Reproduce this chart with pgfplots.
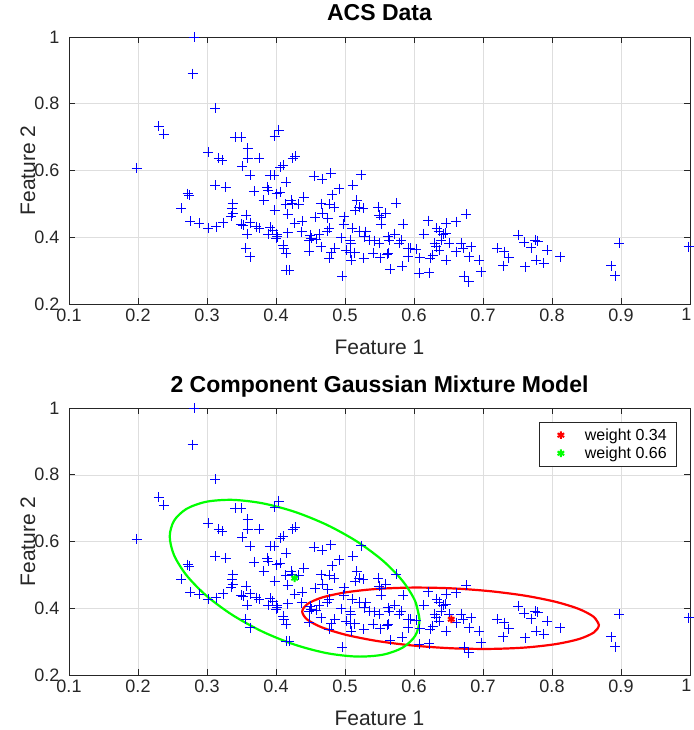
\documentclass[border=0pt]{standalone}
\usepackage{fontspec}
\setmainfont{Liberation Sans}
\usepackage{pgfplots}
\pgfplotsset{compat=1.18}
\usepackage{pgfplotstable}
\definecolor{mgreen}{rgb}{0,1,0}
\definecolor{mred}{rgb}{1,0,0}
\definecolor{mblue}{rgb}{0,0,1}
\definecolor{axgray}{gray}{0.15}

\pgfplotstableread{
x y
0.281 0.999
0.279 0.890
0.312 0.787
0.230 0.732
0.237 0.708
0.198 0.608
0.341 0.700
0.349 0.700
0.404 0.722
0.398 0.702
0.302 0.654
0.317 0.636
0.322 0.631
0.359 0.666
0.359 0.638
0.376 0.636
0.351 0.613
0.362 0.586
0.391 0.586
0.397 0.586
0.410 0.616
0.406 0.611
0.415 0.566
0.312 0.556
0.327 0.551
0.272 0.531
0.274 0.526
0.368 0.539
0.387 0.551
0.389 0.541
0.406 0.536
0.401 0.531
0.382 0.511
0.414 0.499
0.263 0.487
0.337 0.501
0.336 0.487
0.398 0.481
0.337 0.473
0.335 0.464
0.357 0.467
0.417 0.470
0.276 0.449
0.289 0.442
0.302 0.427
0.313 0.432
0.323 0.444
0.349 0.440
0.352 0.437
0.362 0.444
0.371 0.432
0.376 0.427
0.392 0.430
0.395 0.422
0.389 0.410
0.401 0.410
0.358 0.410
0.417 0.414
0.400 0.397
0.402 0.402
0.356 0.367
0.362 0.342
0.410 0.377
0.411 0.367
0.415 0.352
0.415 0.302
0.419 0.302
0.424 0.636
0.428 0.643
0.455 0.584
0.467 0.574
0.479 0.591
0.491 0.546
0.481 0.528
0.523 0.588
0.511 0.556
0.440 0.521
0.422 0.511
0.423 0.501
0.433 0.499
0.465 0.501
0.477 0.499
0.484 0.491
0.517 0.511
0.520 0.490
0.515 0.481
0.526 0.487
0.467 0.473
0.457 0.460
0.475 0.457
0.477 0.427
0.474 0.419
0.499 0.462
0.498 0.440
0.548 0.491
0.549 0.467
0.559 0.472
0.552 0.459
0.574 0.503
0.552 0.439
0.584 0.439
0.427 0.442
0.438 0.449
0.437 0.417
0.449 0.407
0.451 0.397
0.448 0.390
0.462 0.410
0.458 0.394
0.465 0.372
0.448 0.359
0.494 0.399
0.507 0.392
0.508 0.382
0.510 0.427
0.520 0.419
0.530 0.417
0.528 0.402
0.535 0.392
0.485 0.367
0.480 0.354
0.477 0.337
0.502 0.362
0.507 0.354
0.514 0.354
0.509 0.332
0.527 0.337
0.496 0.284
0.543 0.390
0.549 0.382
0.541 0.352
0.551 0.339
0.561 0.349
0.562 0.402
0.564 0.392
0.572 0.410
0.581 0.392
0.578 0.382
0.563 0.352
0.565 0.304
0.583 0.314
0.591 0.367
0.594 0.367
0.603 0.364
0.592 0.342
0.608 0.339
0.614 0.410
0.621 0.450
0.607 0.293
0.622 0.294
0.623 0.337
0.627 0.347
0.633 0.427
0.636 0.419
0.639 0.392
0.642 0.410
0.632 0.372
0.636 0.362
0.630 0.382
0.647 0.442
0.646 0.412
0.651 0.382
0.661 0.447
0.676 0.469
0.647 0.332
0.661 0.357
0.668 0.382
0.671 0.367
0.683 0.372
0.680 0.342
0.694 0.332
0.673 0.284
0.679 0.267
0.697 0.297
0.751 0.407
0.720 0.367
0.731 0.357
0.737 0.339
0.729 0.315
0.760 0.385
0.770 0.369
0.776 0.392
0.779 0.389
0.793 0.362
0.777 0.332
0.788 0.322
0.761 0.312
0.812 0.342
0.897 0.382
0.886 0.315
0.892 0.285
0.998 0.372
}\acsdata

\pgfplotsset{
  matlab/.style={
    scale only axis, width=621pt, height=267pt,
    xmin=0.1, xmax=1, ymin=0.2, ymax=1,
    xtick={0.1,0.2,0.3,0.4,0.5,0.6,0.7,0.8,0.9,1},
    xticklabels={0.1,0.2,0.3,0.4,0.5,0.6,0.7,0.8,0.9,1\hspace*{7pt}},
    ytick={0.2,0.4,0.6,0.8,1},
    yticklabels={0.2,0.4,0.6,0.8,1},
    tick align=inside, tick pos=both,
    major tick length=6pt,
    every tick/.style={axgray, line width=0.6pt},
    axis line style={axgray, line width=0.6pt},
    grid=major, grid style={black!13, line width=0.5pt},
    tick label style={font=\fontsize{18}{20}\selectfont, text=axgray},
    xticklabel style={yshift=-1pt},
    yticklabel style={xshift=-6pt},
    xlabel style={font=\fontsize{21}{23}\selectfont, text=axgray, at={(axis description cs:0.5,0)}, anchor=center, yshift=-43pt},
    ylabel style={font=\fontsize{21}{23}\selectfont, text=axgray, at={(axis description cs:0,0.5)}, anchor=center, yshift=41pt},
    title style={font=\bfseries\fontsize{23}{25}\selectfont, at={(axis description cs:0.5,1)}, anchor=base, yshift=10pt},
    xlabel={Feature 1}, ylabel={Feature 2},
  },
  cmark/.style={only marks, mark=asterisk, mark size=3.8pt, line width=2pt,
    legend image code/.code={\path[draw=none, fill=none] (0pt,-4pt) (36pt,4pt);
      \draw[mark repeat=2, mark phase=2, ##1] plot coordinates {(0pt,0pt) (14pt,0pt) (36pt,0pt)};}},
}

\begin{document}
\begin{tikzpicture}
\useasboundingbox (0,0) rectangle (693pt,730pt);
\begin{axis}[matlab, at={(69pt,426pt)}, anchor=south west, title={ACS Data}]
\addplot[only marks, mark=+, mark size=5pt, mblue, line width=0.55pt] table[x=x,y=y]{\acsdata};
\end{axis}

\begin{axis}[matlab, at={(69pt,55pt)}, anchor=south west, title={2 Component Gaussian Mixture Model},
  legend style={at={(rel axis cs:0.979,0.948)}, anchor=north east, draw=axgray, line width=0.5pt,
    font=\fontsize{16}{18}\selectfont, text=black, inner xsep=8pt, inner ysep=4pt, row sep=0pt,
    nodes={inner xsep=2pt, inner ysep=2.5pt}},
  legend cell align=left]
\addplot[only marks, mark=+, mark size=5pt, mblue, line width=0.55pt, forget plot] table[x=x,y=y]{\acsdata};
\addplot[mred, line width=2.2pt, smooth, forget plot] coordinates {
(0.868,0.350) (0.8607,0.3739) (0.8392,0.3976) (0.8050,0.4194) (0.7605,0.4378) (0.7086,0.4515)
(0.653,0.4598) (0.5974,0.4619) (0.5455,0.4578) (0.5010,0.4476) (0.4668,0.4322) (0.4453,0.4125)
(0.438,0.390) (0.4453,0.3661) (0.4668,0.3424) (0.5010,0.3206) (0.5455,0.3022) (0.5974,0.2885)
(0.653,0.2802) (0.7086,0.2781) (0.7605,0.2822) (0.8050,0.2924) (0.8392,0.3078) (0.8607,0.3275)
(0.868,0.350) (0.8607,0.3739)};
\addplot[mgreen, line width=2.2pt, smooth, forget plot] coordinates {
(0.608,0.365) (0.6018,0.4208) (0.5837,0.4812) (0.5550,0.5423) (0.5175,0.5998) (0.4738,0.6498)
(0.427,0.689) (0.3802,0.7146) (0.3365,0.7248) (0.2990,0.7191) (0.2703,0.6978) (0.2522,0.6622)
(0.246,0.615) (0.2522,0.5592) (0.2703,0.4988) (0.2990,0.4377) (0.3365,0.3802) (0.3802,0.3302)
(0.427,0.291) (0.4738,0.2654) (0.5175,0.2552) (0.5550,0.2609) (0.5837,0.2822) (0.6018,0.3178)
(0.608,0.365) (0.6018,0.4208)};
\addplot[cmark, mred] coordinates {(0.654,0.367)};
\addlegendentry{weight 0.34}
\addplot[cmark, mgreen] coordinates {(0.427,0.490)};
\addlegendentry{weight 0.66}
\end{axis}
\end{tikzpicture}
\end{document}
